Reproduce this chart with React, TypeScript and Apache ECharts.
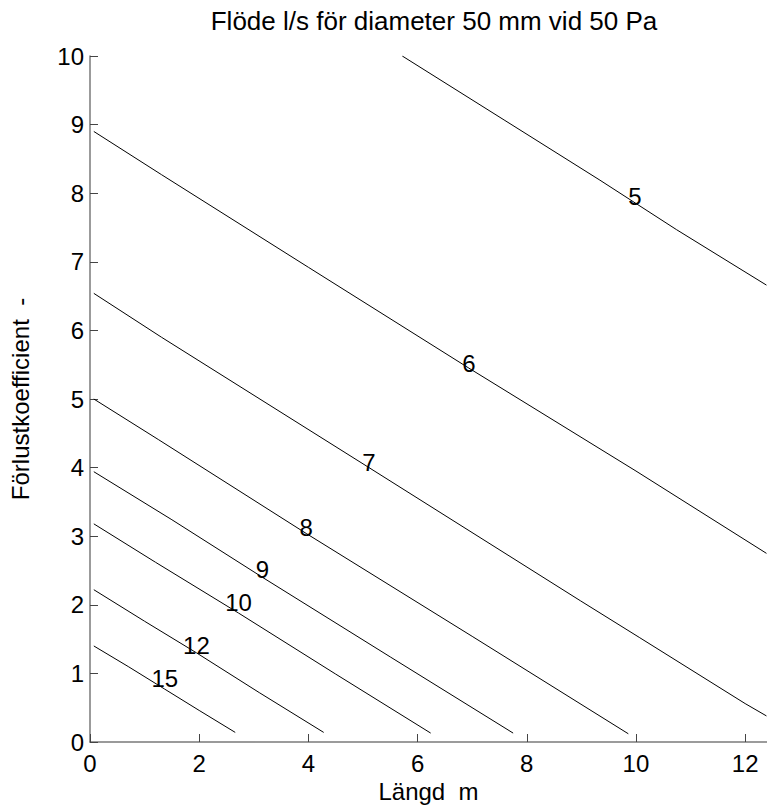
import React, { useEffect, useRef } from "react";
import * as echarts from "echarts";

// Contour levels (flow l/s)
const levels = [5, 6, 7, 8, 9, 10, 12, 15];

// Contour lines: [length m, loss coefficient]
const line5 = [[5.72, 10.0], [7.6, 9.06], [9.34, 8.19], [10.74, 7.47], [12.39, 6.66]];
const line6 = [[0.07, 8.9], [1.31, 8.27], [4.0, 6.92], [6.94, 5.45], [10.0, 3.95], [12.39, 2.75]];
const line7 = [[0.07, 6.54], [1.31, 5.9], [5.11, 4.0], [8.98, 2.06], [10.07, 1.52], [12.0, 0.56], [12.39, 0.38]];
const line8 = [[0.07, 5.0], [1.25, 4.41], [3.96, 3.04], [7.0, 1.54], [9.86, 0.12]];
const line9 = [[0.07, 3.94], [1.5, 3.24], [3.16, 2.4], [5.5, 1.24], [7.75, 0.13]];
const line10 = [[0.07, 3.18], [1.2, 2.62], [2.72, 1.88], [4.5, 0.99], [6.24, 0.13]];
const line12 = [[0.07, 2.22], [1.0, 1.76], [1.95, 1.3], [3.1, 0.72], [4.28, 0.14]];
const line15 = [[0.07, 1.4], [0.7, 1.1], [1.37, 0.77], [2.0, 0.46], [2.66, 0.14]];
const contourLines = [line5, line6, line7, line8, line9, line10, line12, line15];

// Inline label positions of the contour levels
const labelX = [9.98, 6.94, 5.11, 3.96, 3.16, 2.72, 1.95, 1.37];
const labelY = [7.95, 5.52, 4.08, 3.13, 2.51, 2.04, 1.41, 0.93];

const xTicks = [0, 2, 4, 6, 8, 10, 12];
const yTicks = [0, 1, 2, 3, 4, 5, 6, 7, 8, 9, 10];

const FONT = "'Liberation Sans', Arial, sans-serif";
const FS = 24;

export default function App() {
  const ref = useRef<HTMLDivElement>(null);

  useEffect(() => {
    if (!ref.current) return;
    const chart = echarts.init(ref.current, null, { renderer: "svg" });
    const axisColor = "#7a7a7a";
    const lineSeries = contourLines.map((pts, i) => ({
      type: "line",
      name: String(levels[i]),
      data: pts,
      showSymbol: false,
      symbol: "none",
      silent: true,
      lineStyle: { color: "#000", width: 1 },
      z: 2,
    }));
    const labelSeries = {
      type: "scatter",
      data: levels.map((lv, i) => ({ value: [labelX[i], labelY[i]], name: String(lv) })),
      symbolSize: 2,
      itemStyle: { color: "rgba(255,255,255,0)", opacity: 1 },
      silent: true,
      z: 5,
      label: {
        show: true,
        position: "inside",
        formatter: (p: any) => p.name,
        color: "#000",
        opacity: 1,
        textBorderWidth: 0,
        fontSize: FS,
        fontFamily: FONT,
      },
    };
    chart.setOption({
      animation: false,
      backgroundColor: "#fff",
      title: {
        text: "Flöde l/s för diameter 50 mm vid 50 Pa",
        left: 429,
        top: 3,
        textAlign: "center",
        textStyle: { fontFamily: FONT, fontWeight: "normal", fontSize: 26, color: "#000" },
      },
      grid: { left: 88, top: 56, width: 680, height: 686, containLabel: false },
      xAxis: {
        type: "value",
        min: 0,
        max: 12.4,
        interval: 2,
        name: "Längd  m",
        nameLocation: "middle",
        nameGap: 37,
        nameTextStyle: { fontFamily: FONT, fontSize: FS, color: "#000" },
        axisLine: { show: true, lineStyle: { color: axisColor, width: 1.5 } },
        axisTick: { show: true, inside: true, length: 8, lineStyle: { color: "#444", width: 1 } },
        axisLabel: {
          fontFamily: FONT,
          fontSize: FS,
          color: "#000",
          margin: 9,
          showMaxLabel: false,
          formatter: (v: number) => (xTicks.includes(v) ? String(v) : ""),
        },
        splitLine: { show: false },
      },
      yAxis: {
        type: "value",
        min: 0,
        max: 10,
        interval: 1,
        name: "Förlustkoefficient  -",
        nameLocation: "middle",
        nameGap: 58,
        nameTextStyle: { fontFamily: FONT, fontSize: FS, color: "#000" },
        axisLine: { show: true, lineStyle: { color: axisColor, width: 1.5 } },
        axisTick: { show: true, inside: true, length: 8, lineStyle: { color: "#444", width: 1 } },
        axisLabel: {
          fontFamily: FONT,
          fontSize: FS,
          color: "#000",
          margin: 6,
          formatter: (v: number) => (yTicks.includes(v) ? String(v) : ""),
        },
        splitLine: { show: false },
      },
      series: [...lineSeries, labelSeries],
    });
    return () => chart.dispose();
  }, []);

  return (
    <div
      ref={ref}
      style={{ position: "absolute", left: 0, top: 0, width: 767, height: 812, background: "#fff" }}
    />
  );
}
